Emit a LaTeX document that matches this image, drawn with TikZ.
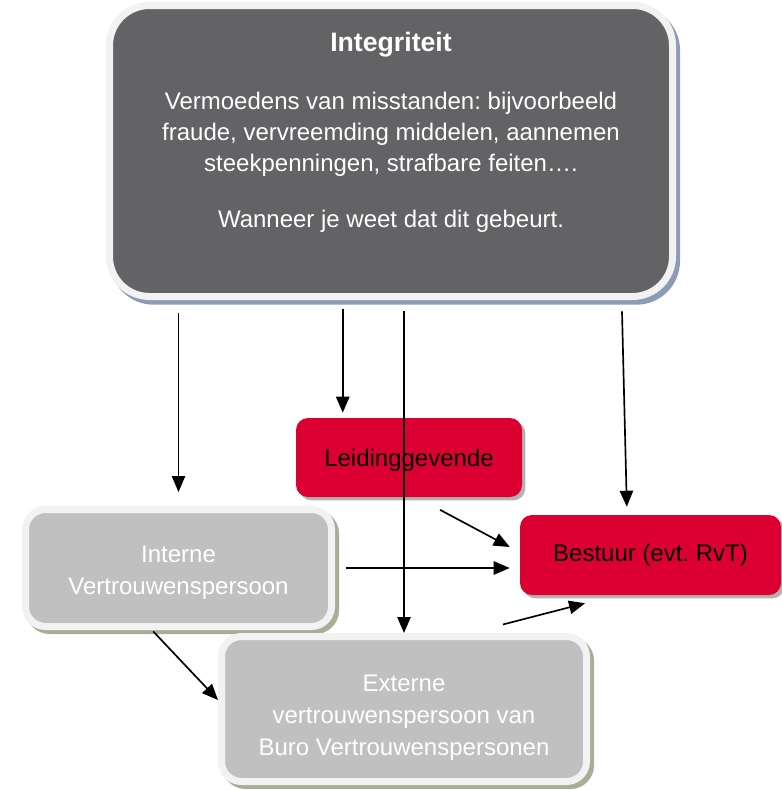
\documentclass[tikz,border=0pt]{standalone}
\usepackage{fontspec}
\setmainfont{Liberation Sans}
\usetikzlibrary{arrows.meta}
\usetikzlibrary{positioning}
\definecolor{donkergrijs}{RGB}{99,99,102}
\definecolor{lichtgrijs}{RGB}{192,192,192}
\definecolor{rand}{RGB}{242,242,242}
\definecolor{schaduwblauw}{RGB}{140,155,182}
\definecolor{schaduwolijf}{RGB}{166,174,148}
\definecolor{rood}{RGB}{220,0,50}
\frenchspacing

\begin{document}
\begin{tikzpicture}[x=0.75pt,y=-0.75pt,
    tekst/.style={font=\fontsize{18}{24}\selectfont, align=center},
    topbox/.style={draw=rand, line width=5.25pt, fill=donkergrijs, rounded corners=30pt, inner sep=0pt,
      minimum width=422.25pt, minimum height=218.25pt,
      preaction={draw=schaduwblauw, fill=schaduwblauw, transform canvas={shift={(3pt,-3.5pt)}}}},
    grijsbox/.style={tekst, text=white, draw=rand, line width=5.25pt, fill=lichtgrijs, rounded corners=15pt, inner sep=0pt,
      preaction={draw=schaduwolijf, fill=schaduwolijf, transform canvas={shift={(3pt,-3pt)}}}},
    roodbox/.style={tekst, fill=rood, rounded corners=9pt, inner sep=0pt,
      preaction={fill=black, opacity=0.3, transform canvas={shift={(2.5pt,-2.5pt)}}}},
    pijl/.style={-{Triangle[length=12pt,width=10pt]}, line width=1.25pt}]
      \useasboundingbox (0,0) rectangle (782,790);

      \node[topbox] (integriteit) at (391,151) {};
      \node[tekst, text=white, font=\fontsize{18}{23.25}\selectfont] (omschrijving) at (391,132)
        {{\fontsize{20}{24}\selectfont\bfseries Integriteit}\\[20pt]
         Vermoedens van misstanden: bijvoorbeeld\\
         fraude, vervreemding middelen, aannemen\\
         steekpenningen, strafbare feiten\dots.\\[18.75pt]
         Wanneer je weet dat dit gebeurt.};

      \node[roodbox, minimum width=169.5pt, minimum height=59.25pt] (leiding) at (409,457.5) {\rule{0pt}{17pt}Leidinggevende};
      \node[roodbox, minimum width=195.75pt, minimum height=60pt] (bestuur) at (650.5,555) {Bestuur (evt. RvT)};
      \node[grijsbox, minimum width=229.5pt, minimum height=87.75pt] (intern) at (178.5,568) {\rule{0pt}{19pt}Interne\\Vertrouwenspersoon};
      \node[grijsbox, minimum width=273.75pt, minimum height=108.75pt] (extern) at (404,709)
        {\rule{0pt}{25pt}Externe\\vertrouwenspersoon van\\Buro Vertrouwenspersonen};

      \coordinate (pL) at ([xshift=35.25pt]leiding.north west);

      \draw[pijl, shorten <=10pt, shorten >=10.5pt] (integriteit.south -| intern.north) -- (intern.north);
      \draw[pijl, shorten <=6.4pt, shorten >=3.75pt] (integriteit.south -| pL) -- (pL);
      \draw[pijl, shorten <=8.6pt] (integriteit.south -| extern.north) -- (extern.north);
      \draw[pijl, shorten >=6pt] ([xshift=173.25pt,yshift=-8.6pt]integriteit.south) -- ([xshift=-17.6pt]bestuur.north);
      \draw[pijl] ([xshift=23.25pt,yshift=-9.4pt]leiding.south) -- ([xshift=-7.5pt,yshift=6pt]bestuur.west);
      \draw[pijl, shorten <=8pt, shorten >=7.5pt] (intern.east) -- (intern.east -| bestuur.west);
      \draw[pijl] ([xshift=-19pt,yshift=-1pt]intern.south) -- ([yshift=6.75pt]extern.west);
      \draw[pijl] ([xshift=74.25pt,yshift=6.4pt]extern.north) -- ([xshift=-49.1pt,yshift=-6pt]bestuur.south);
    \end{tikzpicture}
\end{document}
